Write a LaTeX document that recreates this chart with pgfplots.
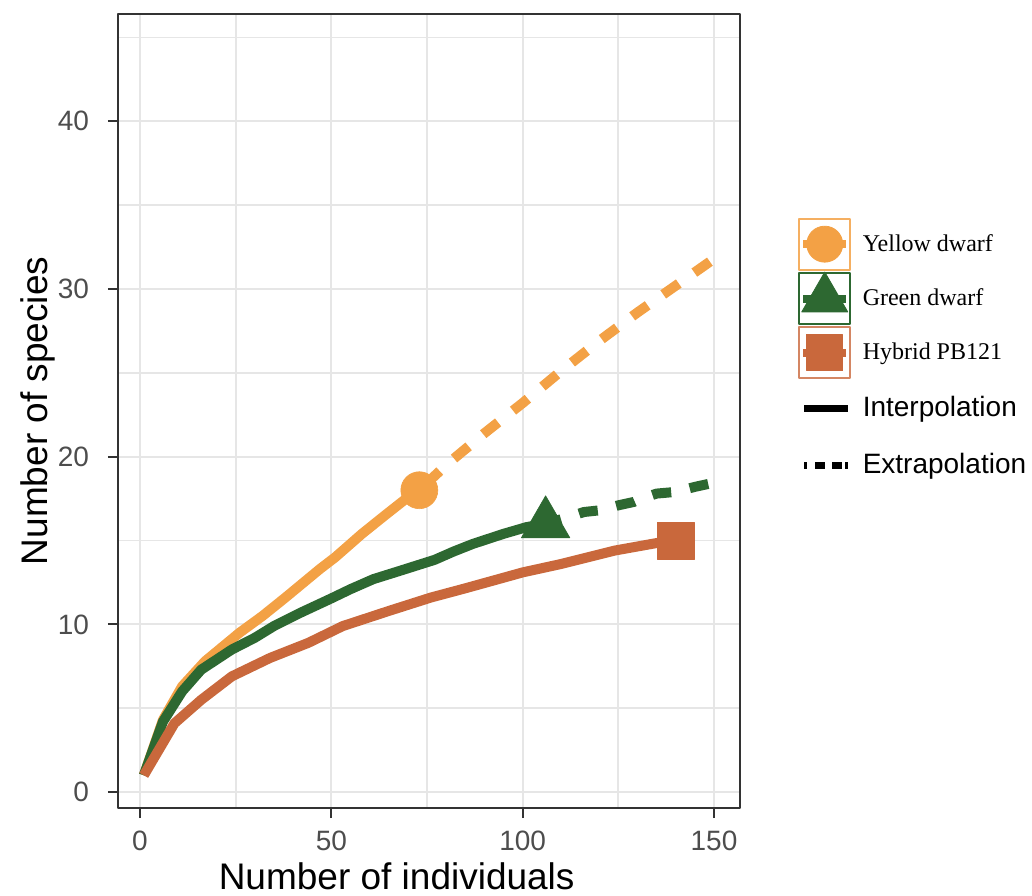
\documentclass[border=0pt]{standalone}
\usepackage{pgfplots}
\pgfplotsset{compat=1.18}
\usepackage{fontspec}
\setmainfont{Liberation Sans}
\newfontfamily\serifleg{Liberation Serif}
\definecolor{yel}{HTML}{F3A145}
\definecolor{grn}{HTML}{2D6831}
\definecolor{hyb}{HTML}{C9683C}
\definecolor{gridc}{HTML}{E6E6E6}
\definecolor{axc}{HTML}{333333}
\definecolor{tickc}{HTML}{4D4D4D}
\begin{document}
\begin{tikzpicture}
\path[use as bounding box] (-59pt,-43.5pt) rectangle (457pt,404pt);
\begin{axis}[
  name=ax, at={(0,0)}, anchor=south west,
  scale only axis, width=311pt, height=397pt,
  xmin=-5.75, xmax=156.8, ymin=-0.95, ymax=46.4,
  xtick={0,50,100,150}, ytick={0,10,20,30,40},
  minor xtick={25,75,125}, minor ytick={5,15,25,35,45},
  grid=both,
  major grid style={line width=1.1pt, color=gridc},
  minor grid style={line width=0.9pt, color=gridc},
  axis line style={line width=1pt, color=axc},
  tick align=outside, tick pos=left,
  major tick length=5pt, minor tick length=0pt,
  major tick style={line width=1pt, color=axc},
  minor tick style={draw=none},
  every tick label/.append style={font=\fontsize{14}{16}\selectfont, text=tickc},
  xticklabel shift=3pt, yticklabel shift=6pt,
  /pgf/number format/assume math mode=true,
  xlabel={Number of individuals}, ylabel={Number of species},
  label style={font=\fontsize{18.5}{22}\selectfont, text=black},
  xlabel style={at={(axis description cs:0.448,-0.1029)}, anchor=base},
  ylabel style={at={(axis description cs:-0.1141,0.5)}, anchor=base, rotate=0},
  legend cell align=left,
  legend style={at={(axis description cs:1.093,0.744)}, anchor=north west,
    draw=none, fill=none, inner sep=0pt, row sep=0.5pt, column sep=5.5pt,
    nodes={inner sep=0pt, anchor=west}},
  line join=round,
]
% Yellow dwarf
\addplot[forget plot, yel, line width=5pt] coordinates {
(1,1) (6,4.3) (11,6.3) (17,7.8) (26,9.5) (32,10.5) (38,11.6) (47,13.3) (51,14.0) (58,15.4) (64,16.5) (69,17.4) (73,18)};
\addplot[forget plot, yel, line width=5pt, dash pattern=on 9.5pt off 9.5pt, dash phase=14.5pt] coordinates {
(73,18) (80,19.5) (90,21.4) (100,23.2) (110,25.1) (120,26.9) (130,28.6) (140,30.2) (150,31.8)};
% Green dwarf
\addplot[forget plot, grn, line width=5pt] coordinates {
(1,1) (6,4.2) (11,6.0) (16,7.3) (24,8.5) (30,9.2) (35,9.9) (42,10.7) (50,11.55) (55,12.1) (61,12.7) (68,13.2) (77,13.85) (82,14.35) (87,14.8) (95,15.4) (101,15.8) (106,16)};
\addplot[forget plot, grn, line width=5pt, dash pattern=on 9.5pt off 9.5pt, dash phase=1.5pt] coordinates {
(106,16.0) (112,16.4) (116,16.7) (120,16.8) (125,17.1) (129,17.3) (131,17.5) (135,17.8) (140,17.9) (145,18.2) (150,18.45)};
% Hybrid PB121
\addplot[forget plot, hyb, line width=5pt] coordinates {
(1,1) (9,4.1) (16,5.5) (24,6.9) (34,8.0) (44,8.9) (53,9.9) (65,10.8) (76,11.6) (85,12.15) (100,13.1) (110,13.6) (124,14.4) (135,14.85) (140,15)};
% observed points
\addplot[forget plot, only marks, mark=*, mark size=9.25pt, mark options={fill=yel, draw=yel, line width=0.3pt}] coordinates {(73,18)};
\addplot[forget plot, only marks, mark=triangle*, mark size=14pt, mark options={fill=grn, draw=grn, line width=0.3pt}] coordinates {(106,16)};
\addplot[forget plot, only marks, mark=square*, mark size=9.25pt, mark options={fill=hyb, draw=hyb, line width=0.3pt}] coordinates {(140,15)};
% legend
\addlegendimage{legend image code/.code={
  \draw[yel!85!white, line width=1pt] (0pt,-12.75pt) rectangle (25.5pt,12.75pt);
  \draw[yel, line width=4pt] (2pt,0pt) -- (23.5pt,0pt);
  \fill[yel] (12.75pt,0pt) circle (9pt);}}
\addlegendentry{\serifleg\fontsize{12}{14}\selectfont Yellow dwarf}
\addlegendimage{legend image code/.code={
  \draw[grn, line width=1pt] (0pt,-12.75pt) rectangle (25.5pt,12.75pt);
  \draw[grn, line width=4pt] (2pt,0pt) -- (23.5pt,0pt);
  \fill[grn] (12.75pt,13.3pt) -- (24.27pt,-6.65pt) -- (1.23pt,-6.65pt) -- cycle;}}
\addlegendentry{\serifleg\fontsize{12}{14}\selectfont Green dwarf}
\addlegendimage{legend image code/.code={
  \draw[hyb!80!white, line width=1pt] (0pt,-12.75pt) rectangle (25.5pt,12.75pt);
  \draw[hyb, line width=4pt] (2pt,0pt) -- (23.5pt,0pt);
  \fill[hyb] (3.75pt,-9pt) rectangle (21.75pt,9pt);}}
\addlegendentry{\serifleg\fontsize{12}{14}\selectfont Hybrid PB121}
\addlegendimage{legend image code/.code={
  \path[draw=none, fill=none] (0pt,-14pt) rectangle (25.5pt,14pt);
  \draw[black, line width=3.5pt] (2.5pt,0pt) -- (24.5pt,0pt);}}
\addlegendentry{\fontsize{14}{16}\selectfont Interpolation}
\addlegendimage{legend image code/.code={
  \path[draw=none, fill=none] (0pt,-14pt) rectangle (25.5pt,14pt);
  \draw[black, line width=3.5pt, dash pattern=on 1.5pt off 4pt on 5pt off 3.5pt on 5pt] (2.5pt,0pt) -- (24.5pt,0pt);}}
\addlegendentry{\fontsize{14}{16}\selectfont Extrapolation}
\end{axis}
\end{tikzpicture}
\end{document}
